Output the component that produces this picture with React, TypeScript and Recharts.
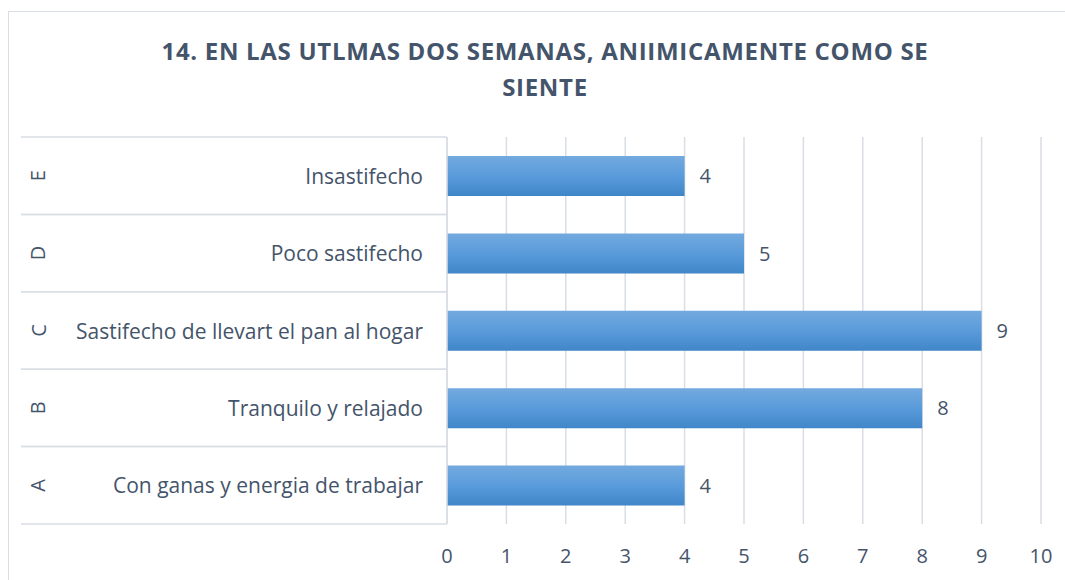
import React from 'react';
import { BarChart, Bar, XAxis, YAxis, CartesianGrid, LabelList } from 'recharts';

const letters = ['A', 'B', 'C', 'D', 'E'];
const categories = [
  'Con ganas y energia de trabajar',
  'Tranquilo y relajado',
  'Sastifecho de llevart el pan al hogar',
  'Poco sastifecho',
  'Insastifecho',
];
const values = [4, 8, 9, 5, 4];
const xTicks = [0, 1, 2, 3, 4, 5, 6, 7, 8, 9, 10];
const titleLines = ['14. EN LAS UTLMAS DOS SEMANAS, ANIIMICAMENTE COMO SE', 'SIENTE'];

const data = categories.map((c, i) => ({ letter: letters[i], name: c, value: values[i] }));

const W = 1065;
const H = 580;
const M = { top: 137, right: 24, bottom: 0, left: 21 };
const XAXIS_H = 56;
const YAXIS_W = 426;
const BAND = (H - M.top - M.bottom - XAXIS_H) / categories.length;
const FONT = '"Open Sans", Lato, sans-serif';
const TEXT = '#44546A';
const LINE = '#D9DEE5';

const YTick = (props: any) => {
  const { y, payload } = props;
  const idx = payload.index;
  const d = data[idx];
  const half = BAND / 2;
  const x0 = M.left;
  const x1 = M.left + YAXIS_W;
  return (
    <g>
      <line x1={x0} x2={x1} y1={y - half} y2={y - half} stroke={LINE} strokeWidth={1.5} />
      <line x1={x0} x2={x1} y1={y + half} y2={y + half} stroke={LINE} strokeWidth={1.5} />
      <text
        x={38}
        y={y}
        transform={`rotate(-90 38 ${y})`}
        textAnchor="middle"
        dominantBaseline="central"
        fill={TEXT}
        fontSize={20}
        fontFamily={FONT}
      >
        {d ? d.letter : ''}
      </text>
      <text x={423} y={y} textAnchor="end" dominantBaseline="central" fill={TEXT} fontSize={21} fontFamily={FONT}>
        {payload.value}
      </text>
    </g>
  );
};

export default function App() {
  return (
    <div style={{ position: 'absolute', left: 0, top: 0, width: W, height: H, overflow: 'hidden', background: '#fff' }}>
      <div
        style={{
          position: 'absolute',
          left: 8,
          top: 11,
          width: W + 20,
          height: H + 20,
          border: `1.5px solid ${LINE}`,
          boxSizing: 'border-box',
        }}
      />
      <div
        style={{
          position: 'absolute',
          left: 8,
          width: 1074,
          top: 33,
          textAlign: 'center',
          fontFamily: FONT,
          fontWeight: 700,
          fontSize: 24,
          letterSpacing: 0.7,
          lineHeight: '36px',
          color: TEXT,
        }}
      >
        {titleLines.map((t, i) => (
          <div key={i}>{t}</div>
        ))}
      </div>
      <div style={{ position: 'absolute', left: 0, top: 0 }}>
        <BarChart width={W} height={H} data={data} layout="vertical" margin={M} barSize={40}>
          <defs>
            <linearGradient id="barGrad" x1="0" y1="0" x2="0" y2="1">
              <stop offset="0%" stopColor="#73AADF" />
              <stop offset="50%" stopColor="#5A9BDB" />
              <stop offset="100%" stopColor="#3F86C8" />
            </linearGradient>
          </defs>
          <CartesianGrid horizontal={false} vertical stroke={LINE} strokeWidth={1.5} />
          <XAxis
            type="number"
            domain={[0, 10]}
            ticks={xTicks}
            interval={0}
            height={XAXIS_H}
            axisLine={false}
            tickLine={false}
            tickMargin={19}
            tick={{ fill: TEXT, fontSize: 20, fontFamily: FONT }}
          />
          <YAxis
            type="category"
            dataKey="name"
            reversed
            width={YAXIS_W}
            axisLine={{ stroke: LINE, strokeWidth: 1.5 }}
            tickLine={false}
            tick={<YTick />}
            interval={0}
          />
          <Bar dataKey="value" fill="url(#barGrad)" isAnimationActive={false}>
            <LabelList dataKey="value" position="right" offset={15} fill={TEXT} fontSize={20} fontFamily={FONT} />
          </Bar>
        </BarChart>
      </div>
    </div>
  );
}
